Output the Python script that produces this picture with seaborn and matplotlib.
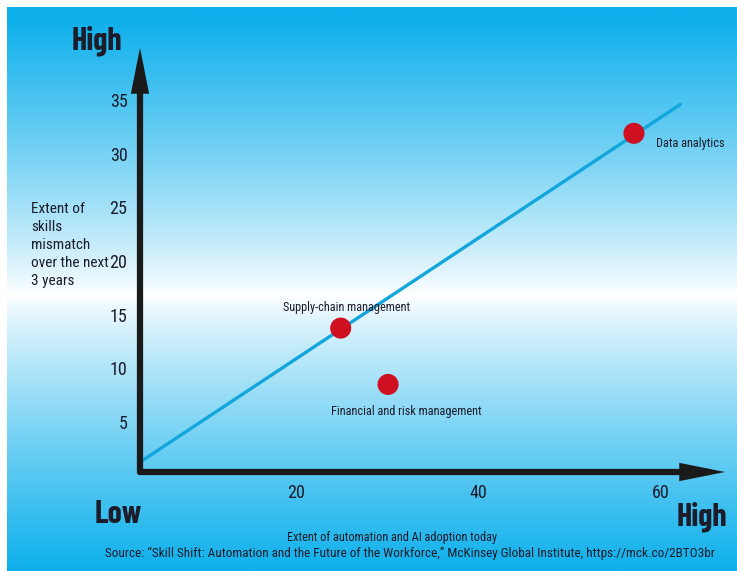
import numpy as np
import pandas as pd
import matplotlib
matplotlib.use("Agg")
import matplotlib.pyplot as plt
import seaborn as sns
from matplotlib import font_manager

# ---- data ----
categories = ["Data analytics", "Supply-chain management", "Financial and risk management"]
adoption = [57.1, 24.9, 30.1]
mismatch = [31.9, 13.75, 8.5]
trend_x = [3.2, 62.2]
trend_y = [1.45, 34.6]
x_ticks = [20, 40, 60]
y_ticks = [5, 10, 15, 20, 25, 30, 35]

sns.set_theme(style="white")
names = {f.name for f in font_manager.fontManager.ttflist}
def pick(cands):
    for c in cands:
        if c in names:
            return c
    return "DejaVu Sans"
reg_font = pick(["Roboto Condensed", "Archivo Narrow", "PT Sans Narrow", "Fira Sans Condensed"])
bold_font = pick(["Barlow Condensed", "Roboto Condensed", "Archivo Narrow", "PT Sans Narrow"])
plt.rcParams["font.family"] = [reg_font, "DejaVu Sans"]

W, H = 737, 571
fig = plt.figure(figsize=(W / 100, H / 100), dpi=100)
fig.patch.set_facecolor("white")

# gradient background
bg = fig.add_axes([7 / W, 0, 1 - 7 / W, (H - 7) / H])
t = np.linspace(0, 1, 400)[:, None]
f = np.clip(np.abs(t - 0.51) / 0.49, 0, 1) ** 0.85
blue = np.array([14, 176, 236]) / 255.0
white = np.array([1.0, 1.0, 1.0])
img = white[None, None, :] * (1 - f[..., None]) + blue[None, None, :] * f[..., None]
img = np.repeat(img, 2, axis=1)
bg.imshow(img, aspect="auto", extent=[0, 1, 0, 1])
bg.set_axis_off()

# main axes
px = lambda x: x / W
py = lambda y: 1 - y / H
ax = fig.add_axes([px(140), py(472), px(725) - px(140), py(48) - py(472)])
ax.patch.set_alpha(0)
ax.set_xlim(2.86, 67.1)
ax.set_ylim(0.34, 39.85)
for s in ax.spines.values():
    s.set_visible(False)

txt = "#1c1c2a"
sns.lineplot(x=trend_x, y=trend_y, ax=ax, color="#12a6dc", lw=2.4, zorder=3)
df = pd.DataFrame({"cat": categories, "x": adoption, "y": mismatch})
sns.scatterplot(data=df, x="x", y="y", ax=ax, s=230, color="#cf1020",
                edgecolor="none", zorder=5, legend=False)

offsets = {
    "Data analytics": ((16, -7), "left"),
    "Supply-chain management": ((4, 15), "center"),
    "Financial and risk management": ((13, -19.5), "center"),
}
for c, xv, yv in zip(categories, adoption, mismatch):
    off, ha = offsets[c]
    ax.annotate(c, (xv, yv), xytext=off, textcoords="offset points",
                ha=ha, va="center", fontsize=8.8, color=txt)

# axis arrows
for end in [(1.0, 0), (0, 1.0)]:
    ax.annotate("", xy=end, xytext=(0, 0), xycoords="axes fraction",
                arrowprops=dict(arrowstyle="-|>,head_length=1.6,head_width=0.32",
                                color="#1a1a1a", lw=4.5, shrinkA=0, shrinkB=0,
                                joinstyle="miter"),
                annotation_clip=False, zorder=6)

ax.set_xticks(x_ticks)
ax.set_yticks(y_ticks)
ax.set_xticklabels([str(v) for v in x_ticks])
ax.set_yticklabels([str(v) for v in y_ticks])
ax.tick_params(axis="both", length=0, labelsize=13, labelcolor=txt)
ax.tick_params(axis="x", pad=9)
ax.tick_params(axis="y", pad=9)
ax.set_xlabel("")
ax.set_ylabel("")
ax.grid(False)

# extra texts
bold_kw = dict(fontsize=23, fontweight="bold", color=txt, family=[bold_font, "DejaVu Sans"])
fig.text(px(97), py(50), "High", ha="center", va="baseline", **bold_kw)
fig.text(px(118), py(523), "Low", ha="center", va="baseline", **bold_kw)
fig.text(px(727), py(526), "High", ha="right", va="baseline", **bold_kw)
fig.text(px(31), py(202), "Extent of\nskills\nmismatch\nover the next\n3 years",
         ha="left", va="top", fontsize=11, color=txt, linespacing=1.36)
fig.text(px(392), py(538), "Extent of automation and AI adoption today",
         ha="center", va="center", fontsize=8.8, color=txt)
fig.text(px(410), py(553),
         "Source: \u201cSkill Shift: Automation and the Future of the Workforce,\u201d "
         "McKinsey Global Institute, https://mck.co/2BTO3br",
         ha="center", va="center", fontsize=9.5, color=txt)

fig.savefig("out.png", dpi=100)
